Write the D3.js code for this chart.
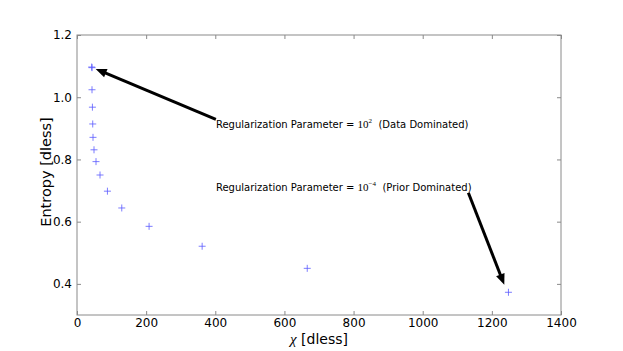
<!DOCTYPE html>
<html>
<head>
  <meta charset="UTF-8">
  <style>
    body { margin: 0; background: #fff; }
    text { font-family: "DejaVu Sans", sans-serif; }
  </style>
</head>
<body>
<script src="https://d3js.org/d3.v7.min.js"></script>
<script>

  // chi / entropy points
  var chiValues = [42.5, 43.5, 43.4, 44.6, 45.5, 46.3, 49.2, 55, 66.6, 88, 129.5, 208.5, 362, 666, 1248];
  var entropyValues = [1.097, 1.095, 1.024, 0.968, 0.914, 0.871, 0.831, 0.793, 0.750, 0.698, 0.644, 0.585, 0.521, 0.450, 0.373];

  var xTicks = [0, 200, 400, 600, 800, 1000, 1200, 1400];
  var yTicks = [0.4, 0.6, 0.8, 1.0, 1.2];

  // annotations: text position and arrow (tail -> tip), data coords
  var noteExponents = ["2", "\u22124"];
  var noteTails = ["(Data Dominated)", "(Prior Dominated)"];
  var noteTextX = [402, 402];
  var noteTextY = [0.900, 0.700];
  var arrowFrom = [[401.7, 0.929], [1132, 0.693]];
  var arrowTo = [[54, 1.091], [1236, 0.397]];

  var margin = {top: 35, right: 62, bottom: 36, left: 77};
  var W = 623, H = 351;
  var width = W - margin.left - margin.right,
      height = H - margin.top - margin.bottom;

  var svg = d3.select("body").append("svg")
    .attr("width", W)
    .attr("height", H);

  var g = svg.append("g")
    .attr("transform", "translate(" + margin.left + "," + margin.top + ")");

  var x = d3.scaleLinear().domain([0, 1400]).range([0, width]);
  var y = d3.scaleLinear().domain([0.3, 1.2]).range([height, 0]);

  var spineColor = "#8a8a8a";

  // frame
  g.append("rect")
    .attr("width", width)
    .attr("height", height)
    .attr("fill", "none")
    .attr("stroke", spineColor)
    .attr("stroke-width", 1);

  // axes with inward ticks
  function styleAxis(sel) {
    sel.select(".domain").remove();
    sel.selectAll(".tick line").attr("stroke", spineColor);
    sel.selectAll(".tick text")
      .attr("fill", "#000")
      .style("font-family", "'DejaVu Sans', sans-serif")
      .style("font-size", "12px");
  }

  g.append("g")
    .attr("transform", "translate(0," + height + ")")
    .call(d3.axisBottom(x).tickValues(xTicks).tickSizeInner(-4).tickSizeOuter(0).tickPadding(3)
      .tickFormat(d3.format("d")))
    .call(styleAxis);

  g.append("g")
    .call(d3.axisTop(x).tickValues(xTicks).tickSizeInner(-4).tickSizeOuter(0).tickFormat(""))
    .call(styleAxis);

  g.append("g")
    .call(d3.axisLeft(y).tickValues(yTicks).tickSizeInner(-4).tickSizeOuter(0).tickPadding(5)
      .tickFormat(d3.format(".1f")))
    .call(styleAxis);

  g.append("g")
    .attr("transform", "translate(" + width + ",0)")
    .call(d3.axisRight(y).tickValues(yTicks).tickSizeInner(-4).tickSizeOuter(0).tickFormat(""))
    .call(styleAxis);

  // axis labels
  var xl = svg.append("text")
    .attr("x", margin.left + width / 2)
    .attr("y", 344)
    .attr("text-anchor", "middle")
    .style("font-size", "14px");
  xl.append("tspan")
    .style("font-family", "'Liberation Serif', serif")
    .style("font-style", "italic")
    .style("font-size", "15px")
    .text("\u03c7");
  xl.append("tspan").text(" [dless]");

  svg.append("text")
    .attr("transform", "translate(51," + (margin.top + height / 2 - 3) + ") rotate(-90)")
    .attr("text-anchor", "middle")
    .style("font-size", "14.5px")
    .text("Entropy [dless]");

  // data markers (+)
  var pts = chiValues.map(function(c, i) { return {x: c, y: entropyValues[i]}; });
  var s = 3.5;
  g.selectAll("path.pt")
    .data(pts)
    .enter().append("path")
    .attr("class", "pt")
    .attr("d", function(d) {
      var px = x(d.x), py = y(d.y);
      return "M" + (px - s) + "," + py + "H" + (px + s) + "M" + px + "," + (py - s) + "V" + (py + s);
    })
    .attr("stroke", "#5a5aff")
    .attr("stroke-width", 0.8)
    .attr("fill", "none");

  // arrows
  arrowFrom.forEach(function(f, i) {
    var x0 = x(f[0]), y0 = y(f[1]);
    var x1 = x(arrowTo[i][0]), y1 = y(arrowTo[i][1]);
    var dx = x1 - x0, dy = y1 - y0;
    var len = Math.sqrt(dx * dx + dy * dy);
    var ux = dx / len, uy = dy / len;
    var headLen = 11, headW = 4.5;
    var bx = x1 - ux * headLen, by = y1 - uy * headLen;
    g.append("line")
      .attr("x1", x0).attr("y1", y0)
      .attr("x2", bx + ux * 2).attr("y2", by + uy * 2)
      .attr("stroke", "#000")
      .attr("stroke-width", 3);
    g.append("path")
      .attr("d", "M" + x1 + "," + y1 +
        "L" + (bx - uy * headW) + "," + (by + ux * headW) +
        "L" + (bx + uy * headW) + "," + (by - ux * headW) + "Z")
      .attr("fill", "#000");
  });

  // annotation text
  noteTails.forEach(function(tail, i) {
    var t = g.append("text")
      .attr("x", x(noteTextX[i]))
      .attr("y", y(noteTextY[i]))
      .style("font-size", "10px")
      .attr("fill", "#000");
    t.append("tspan").text("Regularization Parameter = ");
    t.append("tspan")
      .style("font-family", "'Liberation Serif', serif")
      .style("font-size", "11px")
      .text("10");
    t.append("tspan")
      .attr("dy", -5)
      .style("font-family", "'Liberation Serif', serif")
      .style("font-size", "7px")
      .text(noteExponents[i]);
    t.append("tspan")
      .attr("dy", 5)
      .text("\u00a0\u00a0" + tail);
  });

</script>
</body>
</html>
